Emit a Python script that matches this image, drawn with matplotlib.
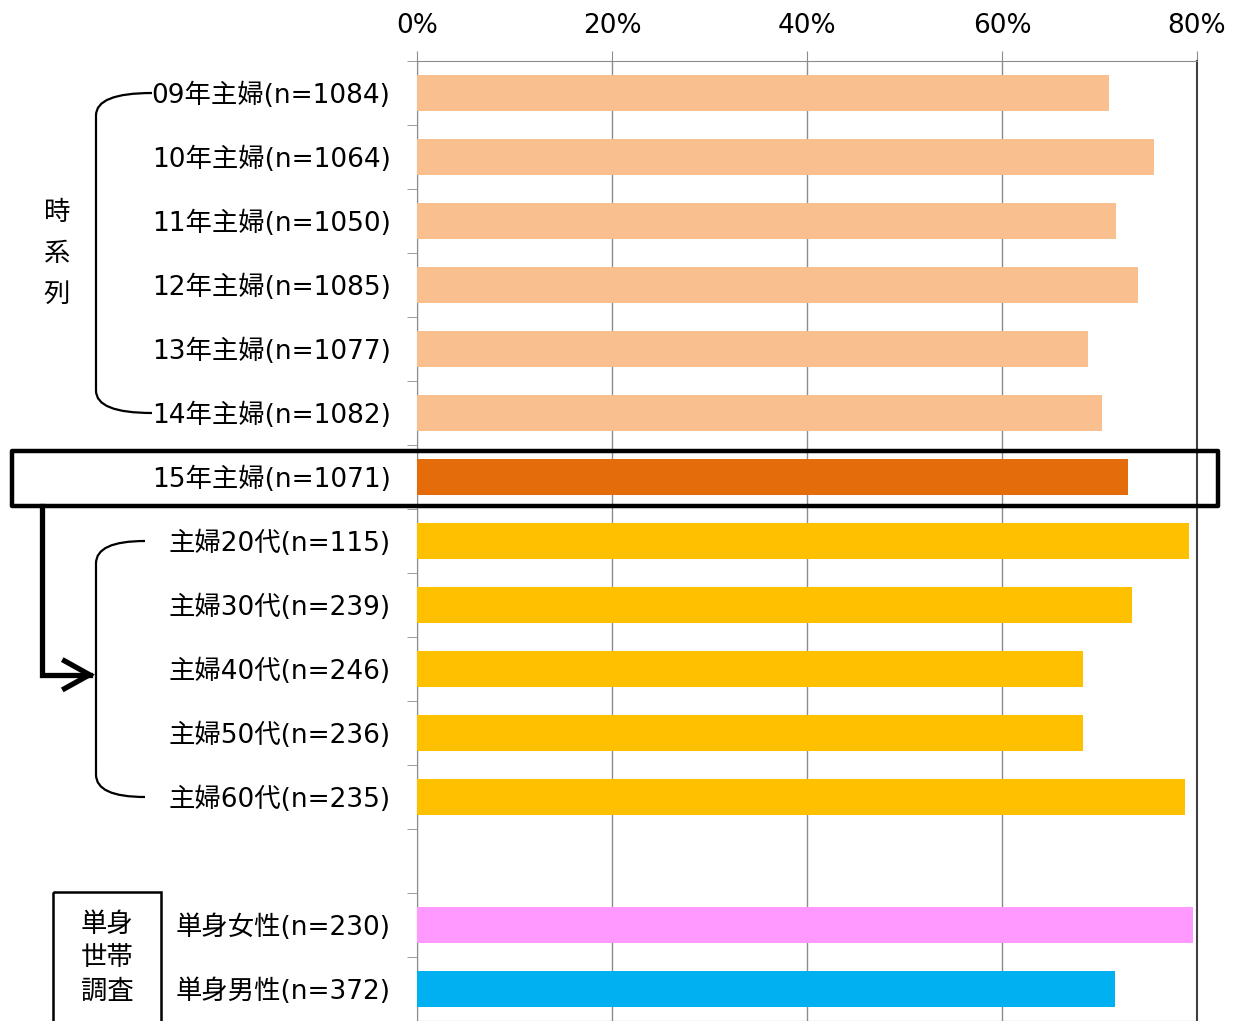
import matplotlib
matplotlib.use("Agg")
import matplotlib.pyplot as plt
import numpy as np
from matplotlib.path import Path
from matplotlib.patches import PathPatch, Rectangle, FancyArrowPatch
from matplotlib.transforms import blended_transform_factory

# 英数字は DejaVu（Verdana系）、漢字は Noto CJK
plt.rcParams['font.family'] = ['DejaVu Sans', 'Noto Sans CJK JP']

# データ
labels = ['09年主婦(n=1084)', '10年主婦(n=1064)', '11年主婦(n=1050)', '12年主婦(n=1085)',
          '13年主婦(n=1077)', '14年主婦(n=1082)', '15年主婦(n=1071)',
          '主婦20代(n=115)', '主婦30代(n=239)', '主婦40代(n=246)', '主婦50代(n=236)',
          '主婦60代(n=235)', '単身女性(n=230)', '単身男性(n=372)']
values = [71.0, 75.6, 71.7, 73.9, 68.8, 70.3, 72.9, 79.2, 73.3, 68.3, 68.3, 78.8, 79.6, 71.6]
groups = ['ts'] * 6 + ['now'] + ['age'] * 5 + ['female', 'male']
xticks = [0, 20, 40, 60, 80]

# 位置とスタイル
rows = list(range(12)) + [13, 14]  # 60代と単身の間は空ける
group_colors = {'ts': '#FABF8F', 'now': '#E46C0A', 'age': '#FFC000',
                'female': '#FF99FF', 'male': '#00B0F0'}
bar_colors = [group_colors[g] for g in groups]

W, H = 1242, 1021
fig = plt.figure(figsize=(W / 100, H / 100), dpi=100)
ax = fig.add_axes([417 / W, 0, 780 / W, 960 / H])

ax.barh(rows, values, height=0.55, color=bar_colors, zorder=3)
ax.set_xlim(0, 80)
ax.set_ylim(14.5, -0.5)

ax.xaxis.tick_top()
ax.set_xticks(xticks)
ax.set_xticklabels([f'{v}%' for v in xticks])
ax.grid(axis='x', color='#8c8c8c', lw=1, zorder=0)
ax.tick_params(axis='x', length=7, color='#8c8c8c', labelsize=19, pad=9)

ax.set_yticks(rows)
ax.set_yticklabels(labels)
ax.set_yticks(np.arange(-0.5, 15, 1), minor=True)
ax.tick_params(axis='y', which='major', length=0, pad=19, labelsize=19)
ax.tick_params(axis='y', which='minor', length=7, color='#8c8c8c')

for s in ['top', 'left', 'bottom']:
    ax.spines[s].set_color('#8c8c8c')
ax.spines['right'].set_color('#404040')
ax.spines['right'].set_linewidth(1.5)

# 注釈（x: 図の割合, y: データ座標）
tr = blended_transform_factory(fig.transFigure, ax.transData)


def bracket(y0, y1, xv, xe, r=0.35):
    verts = [(xe, y0), (xv, y0), (xv, y0 + r), (xv, y1 - r), (xv, y1), (xe, y1)]
    codes = [Path.MOVETO, Path.CURVE3, Path.CURVE3, Path.LINETO, Path.CURVE3, Path.CURVE3]
    fig.add_artist(PathPatch(Path(verts, codes), transform=tr, fill=False, lw=1.6,
                             edgecolor='black'))


bracket(0, 5, 96 / W, 152 / W)
bracket(7, 11, 96 / W, 145 / W)

for i, ch in enumerate('時系列'):
    fig.text(57 / W, 2.52 + (i - 1) * 0.64, ch, transform=tr, fontsize=19,
             ha='center', va='center')

# 15年の枠
fig.add_artist(Rectangle((12 / W, 5.6), 1206 / W, 0.85, transform=tr, fill=False,
                         lw=3.2, edgecolor='black', joinstyle='round'))

# 矢印
arrow_path = Path([(42 / W, 6.45), (42 / W, 9.09), (95 / W, 9.09)])
fig.add_artist(FancyArrowPatch(path=arrow_path, transform=tr,
                               arrowstyle='->,head_length=0.9,head_width=0.5',
                               mutation_scale=20, lw=3.8, color='black',
                               joinstyle='miter', capstyle='projecting'))

# 単身世帯調査
fig.add_artist(Rectangle((53 / W, 12.48), 108 / W, 2.5, transform=tr, fill=False,
                         lw=1.8, edgecolor='black'))
for i, s in enumerate(['単身', '世帯', '調査']):
    fig.text(107 / W, 13.0 + i * 0.52, s, transform=tr, fontsize=19,
             ha='center', va='center', linespacing=1.0)

fig.savefig('out.png', dpi=100)
